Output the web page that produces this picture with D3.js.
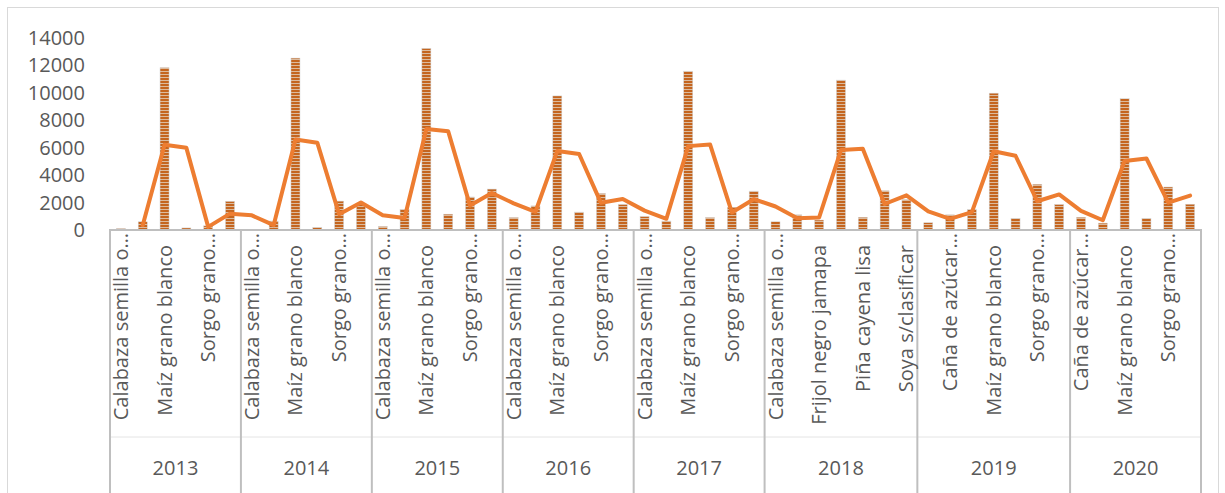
<!DOCTYPE html>
<html>
<head>
<meta charset="utf-8">
<script src="https://cdn.jsdelivr.net/npm/d3@7"></script>
<style>
  body { margin: 0; background: #fff; }
  svg text { font-family: "Open Sans", sans-serif; fill: #595959; }
</style>
</head>
<body>
<svg id="chart"></svg>
<script>
const years = ['2013', '2014', '2015', '2016', '2017', '2018', '2019', '2020'];

const crops = [
  ['Calabaza semilla o…', 'Frijol negro jamapa', 'Maíz grano blanco', 'Piña cayena lisa', 'Sorgo grano…', 'Soya s/clasificar'],
  ['Calabaza semilla o…', 'Frijol negro jamapa', 'Maíz grano blanco', 'Piña cayena lisa', 'Sorgo grano…', 'Soya s/clasificar'],
  ['Calabaza semilla o…', 'Frijol negro jamapa', 'Maíz grano blanco', 'Piña cayena lisa', 'Sorgo grano…', 'Soya s/clasificar'],
  ['Calabaza semilla o…', 'Frijol negro jamapa', 'Maíz grano blanco', 'Piña cayena lisa', 'Sorgo grano…', 'Soya s/clasificar'],
  ['Calabaza semilla o…', 'Frijol negro jamapa', 'Maíz grano blanco', 'Piña cayena lisa', 'Sorgo grano…', 'Soya s/clasificar'],
  ['Calabaza semilla o…', 'Caña de azúcar…', 'Frijol negro jamapa', 'Maíz grano blanco', 'Piña cayena lisa', 'Sorgo grano…', 'Soya s/clasificar'],
  ['Calabaza semilla o…', 'Caña de azúcar…', 'Frijol negro jamapa', 'Maíz grano blanco', 'Piña cayena lisa', 'Sorgo grano…', 'Soya s/clasificar'],
  ['Caña de azúcar…', 'Frijol negro jamapa', 'Maíz grano blanco', 'Piña cayena lisa', 'Sorgo grano…', 'Soya s/clasificar']
];

// bars, one per crop in the order above
const production = [
  100, 600, 11800, 150, 300, 2080,
  50, 650, 12500, 200, 2100, 1900,
  250, 1500, 13200, 1150, 2400, 2975,
  900, 1750, 9750, 1300, 2650, 1850,
  975, 650, 11550, 900, 1650, 2825,
  600, 1100, 725, 10900, 925, 2850, 2200,
  525, 1100, 1500, 9950, 850, 3325, 1850,
  925, 500, 9550, 850, 3125, 1875
];

// orange trend line (2 per. moving average as shown)
const trend = [
  null, 350, 6200, 5975, 225, 1190,
  1065, 350, 6575, 6350, 1150, 2000,
  1075, 875, 7350, 7175, 1775, 2690,
  1940, 1325, 5750, 5525, 1975, 2250,
  1410, 815, 6100, 6225, 1275, 2240,
  1710, 850, 910, 5810, 5910, 1890, 2525,
  1360, 810, 1300, 5725, 5400, 2090, 2590,
  1390, 710, 5025, 5200, 1990, 2500
];

const yTicks = [0, 2000, 4000, 6000, 8000, 10000, 12000, 14000];

const width = 1225;
const height = 493;
const plotLeft = 110, plotRight = 1201;
const baseY = 230, topY = 37.5;

const svg = d3.select('#chart')
  .attr('width', width)
  .attr('height', height);

// flatten categories
const cats = [];
crops.forEach((list, yi) => list.forEach(name => cats.push({ year: years[yi], name })));
cats.forEach((c, i) => { c.i = i; c.value = production[i]; c.trend = trend[i]; });

const x = d3.scaleBand()
  .domain(cats.map(c => c.i))
  .range([plotLeft, plotRight])
  .paddingInner(0)
  .paddingOuter(0);

const y = d3.scaleLinear()
  .domain([0, 14000])
  .range([baseY, topY]);

// stripe pattern for bars
const defs = svg.append('defs');
const pat = defs.append('pattern')
  .attr('id', 'stripes')
  .attr('patternUnits', 'userSpaceOnUse')
  .attr('width', 6)
  .attr('height', 3);
pat.append('rect').attr('width', 6).attr('height', 3).attr('fill', '#dcbb9e');
pat.append('rect').attr('width', 6).attr('height', 2).attr('fill', '#c4651f');

// outer chart border
svg.append('rect')
  .attr('x', 7.5).attr('y', 7.5)
  .attr('width', 1211).attr('height', 495)
  .attr('fill', 'none')
  .attr('stroke', '#d9d9d9');

// y axis labels
svg.append('g')
  .selectAll('text')
  .data(yTicks)
  .enter().append('text')
  .attr('x', 85)
  .attr('y', d => y(d))
  .attr('dy', '0.35em')
  .attr('text-anchor', 'end')
  .style('font-size', '20px')
  .text(d => d);

// bars
const barW = 9;
svg.append('g')
  .selectAll('rect')
  .data(cats)
  .enter().append('rect')
  .attr('x', d => x(d.i) + x.bandwidth() / 2 - barW / 2)
  .attr('y', d => y(d.value))
  .attr('width', barW)
  .attr('height', d => baseY - y(d.value))
  .attr('fill', 'url(#stripes)')
  .attr('stroke', '#cfcfcf')
  .attr('stroke-width', 0.5);

// category axis
const axis = svg.append('g').attr('stroke', '#bfbfbf');
axis.append('line')
  .attr('x1', plotLeft - 1).attr('x2', plotRight + 1)
  .attr('y1', baseY).attr('y2', baseY)
  .attr('stroke-width', 2);
axis.append('line')
  .attr('x1', plotLeft).attr('x2', plotRight)
  .attr('y1', 437).attr('y2', 437)
  .attr('stroke', '#e4e4e4')
  .attr('stroke-width', 1);

let start = 0;
const bounds = [plotLeft];
crops.forEach(list => { start += list.length; bounds.push(x(start - 1) + x.bandwidth()); });
axis.selectAll('line.div')
  .data(bounds)
  .enter().append('line')
  .attr('class', 'div')
  .attr('x1', d => d).attr('x2', d => d)
  .attr('y1', baseY).attr('y2', 493)
  .attr('stroke-width', 2);

// category labels (every second one, as in the source)
svg.append('g')
  .selectAll('text')
  .data(cats.filter(c => c.i % 2 === 0))
  .enter().append('text')
  .attr('transform', d => {
    const top = d.name.endsWith('…') ? 233 : 245;
    return `translate(${x(d.i) + x.bandwidth() / 2},${top}) rotate(-90)`;
  })
  .attr('dy', '0.35em')
  .attr('text-anchor', 'end')
  .style('font-size', '20px')
  .text(d => d.name);

// year labels
svg.append('g')
  .selectAll('text')
  .data(years)
  .enter().append('text')
  .attr('x', (d, i) => (bounds[i] + bounds[i + 1]) / 2)
  .attr('y', 468)
  .attr('dy', '0.35em')
  .attr('text-anchor', 'middle')
  .style('font-size', '20px')
  .text(d => d);

// trend line
const line = d3.line()
  .defined(d => d.trend !== null)
  .x(d => x(d.i) + x.bandwidth() / 2)
  .y(d => y(d.trend));

svg.append('path')
  .datum(cats)
  .attr('d', line)
  .attr('fill', 'none')
  .attr('stroke', '#ed7d31')
  .attr('stroke-width', 4)
  .attr('stroke-linejoin', 'round')
  .attr('stroke-linecap', 'round');
</script>
</body>
</html>
